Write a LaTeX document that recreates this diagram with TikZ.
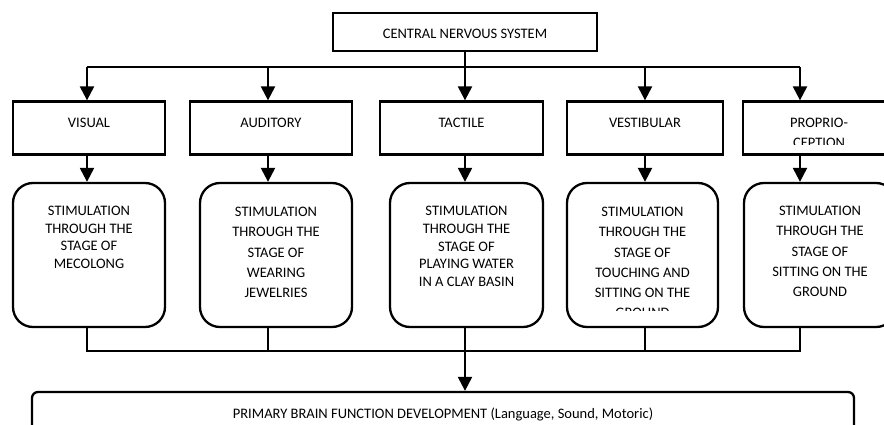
\documentclass[tikz,border=0pt]{standalone}
\usepackage{fontspec}
\setmainfont{Carlito}
\usetikzlibrary{arrows.meta}
\begin{document}
\begin{tikzpicture}[x=1pt, y=-1pt, line width=2.3pt,
		box/.style={draw, rectangle, inner sep=0pt, minimum height=53pt},
		stimbox/.style={draw, rectangle, rounded corners=20pt, inner sep=0pt, minimum height=144pt},
		txt/.style={align=center, inner sep=0pt, font=\fontsize{14.5}{20.2}\selectfont},
		tighttxt/.style={txt, font=\fontsize{14.5}{17.6}\selectfont},
		arr/.style={-{Triangle[length=14pt, width=14pt]}}]
			\clip (0,0) rectangle (884,425);

			\node[box, minimum width=264pt, minimum height=38pt] (cns) at (465,32) {};
			\node[txt] (cnst) at (465,33.5) {CENTRAL NERVOUS SYSTEM};

			\node[box, minimum width=152pt] (visual) at (89,128) {};
			\node[box, minimum width=162pt] (auditory) at (271,128) {};
			\node[box, minimum width=163pt] (tactile) at (461.5,128) {};
			\node[box, minimum width=156pt] (vestibular) at (645,128) {};
			\node[box, minimum width=152pt] (proprio) at (819,128) {};

			\node[txt] (visualt) at (89,123) {VISUAL};
			\node[txt] (auditoryt) at (271,123) {AUDITORY};
			\node[txt] (tactilet) at (461.5,123) {TACTILE};
			\node[txt] (vestibulart) at (645,123) {VESTIBULAR};
			\begin{scope}
				\clip (743,102) rectangle (895,145);
				\node[txt] (propriot) at (819,133) {PROPRIO-\\CEPTION};
			\end{scope}

			\node[stimbox, minimum width=152pt] (stim1) at (89,255) {};
			\node[stimbox, minimum width=152pt] (stim2) at (276,255) {};
			\node[stimbox, minimum width=153pt] (stim3) at (466.5,255) {};
			\node[stimbox, minimum width=151pt] (stim4) at (642.5,255) {};
			\node[stimbox, minimum width=152pt] (stim5) at (820,255) {};

			\node[tighttxt] (stim1t) at (89,237.5) {STIMULATION\\THROUGH THE\\STAGE OF\\MECOLONG};
			\node[txt] (stim2t) at (276,252.5) {STIMULATION\\THROUGH THE\\STAGE OF\\WEARING\\JEWELRIES};
			\node[tighttxt] (stim3t) at (466.5,246.5) {STIMULATION\\THROUGH THE\\STAGE OF\\PLAYING WATER\\IN A CLAY BASIN};
			\begin{scope}
				\clip (567,183) rectangle (718,310);
				\node[txt] (stim4t) at (642.5,262.5) {STIMULATION\\THROUGH THE\\STAGE OF\\TOUCHING AND\\SITTING ON THE\\GROUND};
			\end{scope}
			\node[txt] (stim5t) at (820,251.5) {STIMULATION\\THROUGH THE\\STAGE OF\\SITTING ON THE\\GROUND};

			\node[draw, rectangle, rounded corners=6pt, inner sep=0pt, minimum width=822pt, minimum height=60pt] (pbf) at (443,422) {};
			\node[inner sep=0pt, anchor=base, font=\fontsize{14.5}{17}\selectfont] (pbft) at (443,418) {PRIMARY BRAIN FUNCTION DEVELOPMENT (Language, Sound, Motoric)};

			\coordinate (d1) at (87,67);
			\coordinate (d2) at (268,67);
			\coordinate (d3) at (465,67);
			\coordinate (d4) at (645,67);
			\coordinate (d5) at (800,67);
			\coordinate (j1) at (87,351);
			\coordinate (j5) at (800,351);

			\draw (cns.south) -- (d3);
			\draw (d1) -- (d5);
			\draw[arr] (d1) -- (d1 |- visual.north);
			\draw[arr] (d2) -- (d2 |- auditory.north);
			\draw[arr] (d3) -- (d3 |- tactile.north);
			\draw[arr] (d4) -- (d4 |- vestibular.north);
			\draw[arr] (d5) -- (d5 |- proprio.north);

			\draw[arr] (d1 |- visual.south) -- (d1 |- stim1.north);
			\draw[arr] (d2 |- auditory.south) -- (d2 |- stim2.north);
			\draw[arr] (d3 |- tactile.south) -- (d3 |- stim3.north);
			\draw[arr] (d4 |- vestibular.south) -- (d4 |- stim4.north);
			\draw[arr] (d5 |- proprio.south) -- (d5 |- stim5.north);

			\draw (d1 |- stim1.south) -- (j1) -- (j5) -- (d5 |- stim5.south);
			\draw (d2 |- stim2.south) -- (d2 |- j1);
			\draw (d4 |- stim4.south) -- (d4 |- j1);
			\draw[arr] (d3 |- stim3.south) -- (d3 |- pbf.north);
		\end{tikzpicture}
\end{document}
